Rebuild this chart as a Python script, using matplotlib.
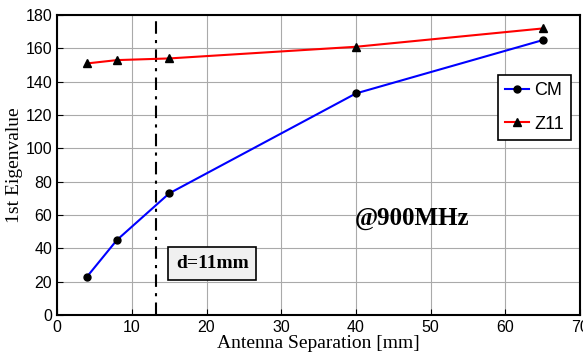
import matplotlib
matplotlib.use("Agg")
import matplotlib.pyplot as plt

sep = [4, 8, 15, 40, 65]
cm_vals = [23, 45, 73, 133, 165]
z11_vals = [151, 153, 154, 161, 172]
d_line = 13.2
xticks = [0, 10, 20, 30, 40, 50, 60, 70]
yticks = [0, 20, 40, 60, 80, 100, 120, 140, 160, 180]

fig = plt.figure(figsize=(5.83, 3.6), dpi=100)
ax = fig.add_axes([0.098, 0.125, 0.897, 0.833])

ax.plot(sep, cm_vals, color='blue', lw=1.5, marker='o', ms=5, mfc='black', mec='black', label='CM', zorder=3)
ax.plot(sep, z11_vals, color='red', lw=1.5, marker='^', ms=6, mfc='black', mec='black', label='Z11', zorder=3)
ax.axvline(d_line, color='black', lw=1.5, ls=(0, (6, 3, 1.5, 3)), zorder=2)

ax.set_xlim(0, 70)
ax.set_ylim(0, 180)
ax.set_xticks(xticks)
ax.set_yticks(yticks)
ax.grid(True, color='#aaaaaa', lw=0.8)
ax.tick_params(direction='in', length=4, labelsize=11.5)
for lab in ax.get_xticklabels() + ax.get_yticklabels():
    lab.set_fontfamily('Liberation Sans')
for s in ax.spines.values():
    s.set_linewidth(1.5)

ax.set_xlabel('Antenna Separation [mm]', fontfamily='Liberation Serif', fontsize=14, labelpad=0)
ax.set_ylabel('1st Eigenvalue', fontfamily='Liberation Serif', fontsize=14, labelpad=2)

leg = ax.legend(loc='upper right', bbox_to_anchor=(0.983, 0.80), prop={'family': 'Liberation Sans', 'size': 13},
                fancybox=False, edgecolor='black', framealpha=1, handlelength=1.3, handletextpad=0.3,
                borderpad=0.4, labelspacing=0.9, borderaxespad=0)
leg.get_frame().set_linewidth(1.2)

ax.text(15.9, 31, 'd=11mm', fontfamily='Liberation Serif', fontweight='bold', fontsize=14,
        bbox=dict(boxstyle='square,pad=0.4', fc='#f0f0f0', ec='black', lw=1.2), va='center', ha='left', zorder=4)
ax.text(39.8, 58, '@900MHz', fontfamily='Liberation Serif', fontweight='bold', fontsize=18, va='center', ha='left', zorder=4)

fig.savefig('out.png', dpi=100)
